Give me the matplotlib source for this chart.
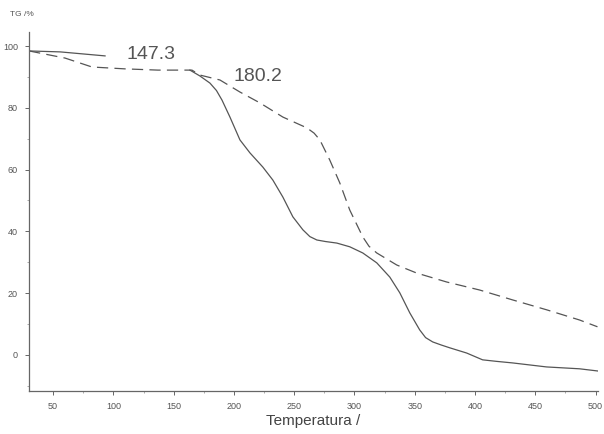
import numpy as np
import matplotlib.pyplot as plt
from matplotlib.ticker import MultipleLocator

plt.rcParams['font.family'] = ['Liberation Sans', 'DejaVu Sans']

# Solid TG curve (gap where it runs under the dashed one)
temp_solid = [30.1, 55.8, 93.1, np.nan, 163.5, 171.8, 180.1, 185.5, 190.1, 196.7, 205.0,
              213.3, 224.0, 232.3, 240.6, 248.9, 257.2, 263.0, 268.8, 276.0, 285.4,
              296.1, 306.9, 318.5, 329.3, 337.6, 345.9, 354.1, 359.0, 364.9, 372.0,
              379.0, 393.1, 406.3, 418.0, 431.2, 459.4, 486.7, 501.6]
tg_solid = [98.4, 98.1, 96.8, np.nan, 92.2, 90.3, 88.0, 85.6, 82.5, 77.0, 69.6,
            65.4, 60.8, 56.6, 51.1, 44.7, 40.5, 38.3, 37.2, 36.7, 36.2,
            35.0, 33.0, 29.8, 25.2, 20.1, 13.6, 8.1, 5.6, 4.2, 3.2,
            2.3, 0.6, -1.6, -2.1, -2.6, -3.9, -4.5, -5.2]

# Dashed TG curve
temp_dash = [30.1, 59.9, 82.3, 109.7, 137.0, 165.2, 171.8, 188.4, 205.0, 221.5,
             240.6, 260.5, 266.5, 271.3, 279.5, 287.8, 296.1, 306.9, 312.0, 318.5,
             335.1, 351.6, 376.5, 403.9, 431.2, 459.4, 486.7, 501.6]
tg_dash = [98.4, 96.1, 93.2, 92.6, 92.2, 92.2, 90.6, 89.0, 85.1, 81.6,
           77.0, 73.5, 71.8, 69.6, 63.1, 55.7, 46.9, 38.2, 35.2, 33.0,
           29.1, 26.5, 23.6, 21.0, 17.8, 14.6, 11.3, 9.1]

onset_labels = ['147.3', '180.2']
onset_pos = [(130.8, 97.2), (219.9, 90.0)]

fig = plt.figure(figsize=(6.04, 4.34), dpi=100)
ax = fig.add_axes([0.048, 0.099, 0.942, 0.827])

line_color = '#555555'
ax.plot(temp_solid, tg_solid, color=line_color, lw=0.9)
ax.plot(temp_dash, tg_dash, color=line_color, lw=0.9, dashes=(9, 5))

for lab, (x, y) in zip(onset_labels, onset_pos):
    ax.text(x, y, lab, fontsize=14, color='#555555', ha='center', va='center')

ax.set_xlim(30, 502)
ax.set_ylim(-11.7, 104.5)
ax.xaxis.set_minor_locator(MultipleLocator(25))
ax.yaxis.set_minor_locator(MultipleLocator(10))
ax.set_xticks(np.arange(50, 501, 50))
ax.set_yticks(np.arange(0, 101, 20))

for side in ['top', 'right']:
    ax.spines[side].set_visible(False)
for side in ['left', 'bottom']:
    ax.spines[side].set_color('#666666')
    ax.spines[side].set_linewidth(0.9)

ax.tick_params(which='major', length=3, width=0.7, colors='#666666',
               labelsize=6.5, labelcolor='#555555', pad=5)
ax.tick_params(which='minor', length=1.5, width=0.5, colors='#888888')

ax.set_xlabel('Temperatura /', fontsize=11, color='#444444', labelpad=2)
fig.text(10 / 604, 1 - 15 / 434, 'TG /%', fontsize=6, color='#555555',
         ha='left', va='center')

fig.savefig('out.png', dpi=100)
